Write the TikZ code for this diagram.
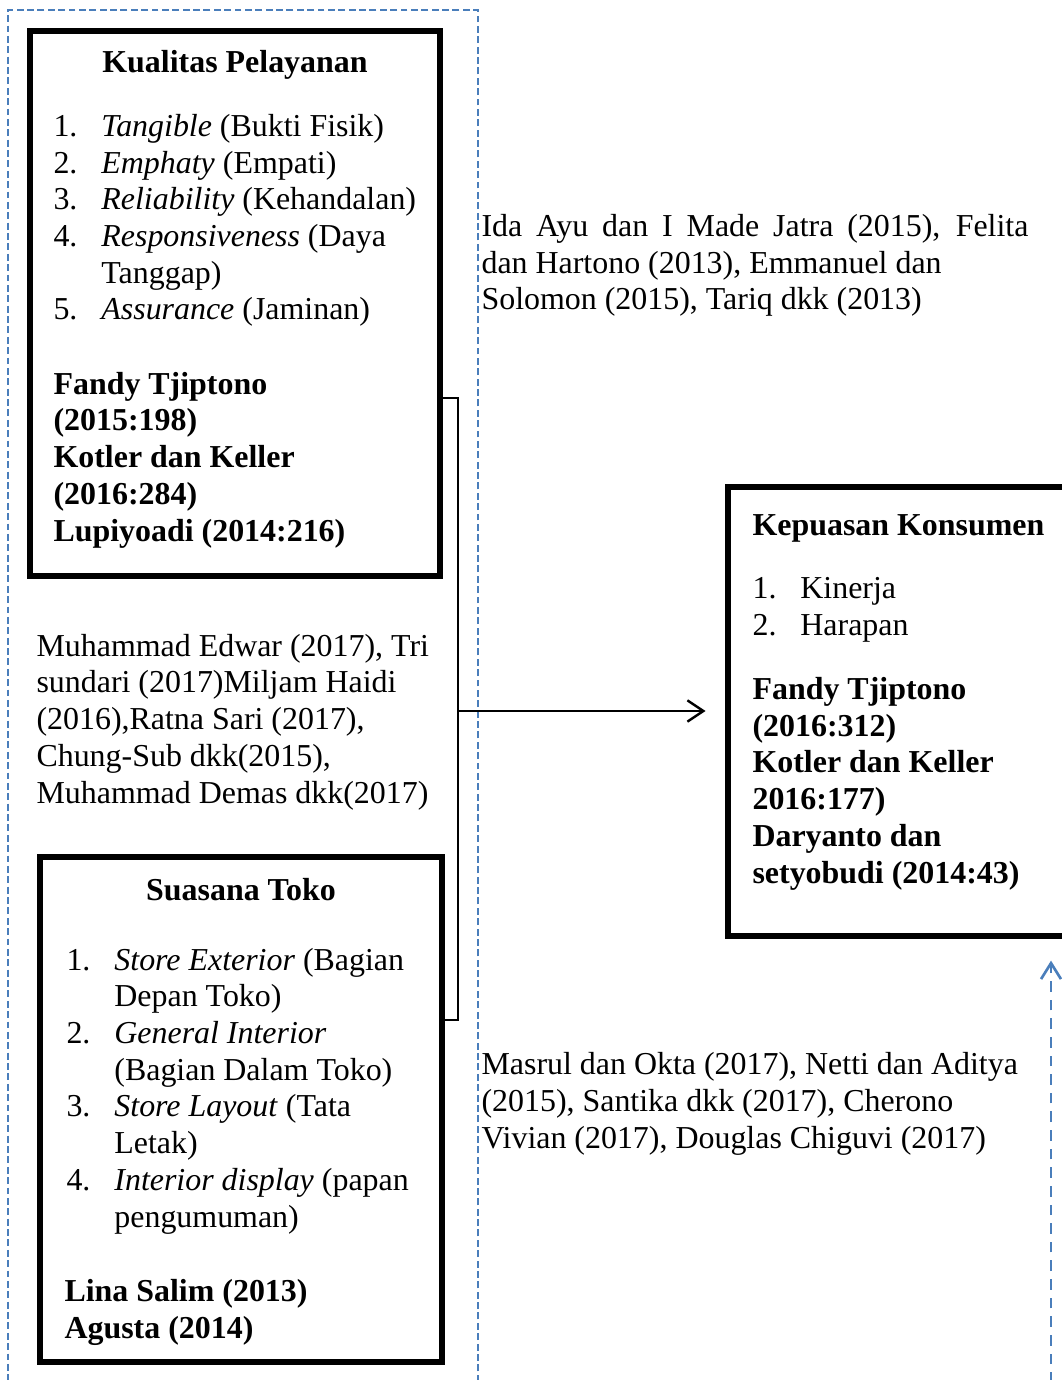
\documentclass[tikz,border=0pt]{standalone}
\usepackage{fontspec}
\setmainfont{Liberation Serif}
\usepackage{tikz}
\usetikzlibrary{arrows.meta,positioning,fit,calc}
\definecolor{lineblue}{HTML}{4A7EBB}
\newcommand{\numlbl}[1]{\makebox[18pt][l]{#1}}
\newcommand{\hang}{\hspace*{18pt}}
\tikzset{
  box/.style={draw, line width=1.9pt, inner sep=0pt},
  group/.style={draw=lineblue, line width=0.7pt, dash pattern=on 2.6pt off 1.3pt, inner sep=0pt},
  txt/.style={anchor=base west, align=left, inner sep=0pt, font=\fontsize{12}{13.8}\selectfont},
  head/.style={anchor=base, inner sep=0pt, font=\fontsize{12}{13.8}\selectfont\bfseries},
  ref/.style={txt, font=\fontsize{12}{13.8}\selectfont\bfseries},
  link/.style={line width=0.6pt},
  arrow/.style={-{Straight Barb[length=6pt,width=8pt]}, line width=0.9pt},
  feedback/.style={-{Straight Barb[length=6pt,width=7.5pt]}, draw=lineblue, line width=1pt, dash pattern=on 4pt off 3pt}
}
\begin{document}
\begin{tikzpicture}[x=0.3759pt, y=-0.3759pt]
    \useasboundingbox (0,0) rectangle (1062,1380);
    % Dashed group round the independent variables
    \node (grp) [group, fit={(8,10) (478,1420)}] {};
    % Kualitas Pelayanan (text nodes sit on the baseline of their last line)
    \node (kp) [box, fit={(30,31) (440,576)}] {};
    \node (kpTitle) [head] at (235,73) {Kualitas Pelayanan};
    \node (kpList) [txt] at (53,320) {\numlbl{1.}\textit{Tangible} (Bukti Fisik)\\
      \numlbl{2.}\textit{Emphaty} (Empati)\\
      \numlbl{3.}\textit{Reliability} (Kehandalan)\\
      \numlbl{4.}\textit{Responsiveness} (Daya\\
      \hang Tanggap)\\
      \numlbl{5.}\textit{Assurance} (Jaminan)};
    \node (kpRef) [ref] at (53,541) {Fandy Tjiptono\\(2015:198)\\Kotler dan Keller\\(2016:284)\\Lupiyoadi (2014:216)};
    % Studies between the two boxes
    \node (midRef) [txt] at (36,803) {Muhammad Edwar (2017), Tri\\sundari (2017)Miljam Haidi\\(2016),Ratna Sari (2017),\\Chung-Sub dkk(2015),\\Muhammad Demas dkk(2017)};
    % Suasana Toko
    \node (st) [box, fit={(40,857) (442,1362)}] {};
    \node (stTitle) [head] at (241,900) {Suasana Toko};
    \node (stList) [txt] at (66,1227) {\numlbl{1.}\textit{Store Exterior} (Bagian\\
      \hang Depan Toko)\\
      \numlbl{2.}\textit{General Interior}\\
      \hang (Bagian Dalam Toko)\\
      \numlbl{3.}\textit{Store Layout} (Tata\\
      \hang Letak)\\
      \numlbl{4.}\textit{Interior display} (papan\\
      \hang pengumuman)};
    \node (stRef) [ref] at (64,1338) {Lina Salim (2013)\\Agusta (2014)};
    % Kepuasan Konsumen
    \node (kk) [box, fit={(728,487) (1075,936)}] {};
    \node (kkTitle) [ref] at (752,535) {Kepuasan Konsumen};
    \node (kkList) [txt] at (752,635) {\numlbl{1.}Kinerja\\ \numlbl{2.}Harapan};
    \node (kkRef) [ref] at (752,883) {Fandy Tjiptono\\(2016:312)\\Kotler dan Keller\\2016:177)\\Daryanto dan\\setyobudi (2014:43)};
    % Studies on the right
    \node (refA) [txt] at (481,310) {\makebox[205.6pt][s]{Ida Ayu dan I Made Jatra (2015), Felita}\\dan Hartono (2013), Emmanuel dan\\Solomon (2015), Tariq dkk (2013)};
    \node (refB) [txt] at (481,1148) {Masrul dan Okta (2017), Netti dan Aditya\\(2015), Santika dkk (2017), Cherono\\Vivian (2017), Douglas Chiguvi (2017)};
    % Connectors
    \coordinate (top) at (458,398);
    \coordinate (bot) at (458,1020);
    \coordinate (junc) at (458,711);
    \coordinate (fbStart) at (1051,1420);
    \draw[link] (kp.east |- top) -- (top) -- (bot) -- (st.east |- bot);
    \draw[arrow, shorten >=7.5pt] (junc) -- (kk.west |- junc);
    \draw[feedback, shorten >=8.3pt] (fbStart) -- (kk.south -| fbStart);
  \end{tikzpicture}
\end{document}
